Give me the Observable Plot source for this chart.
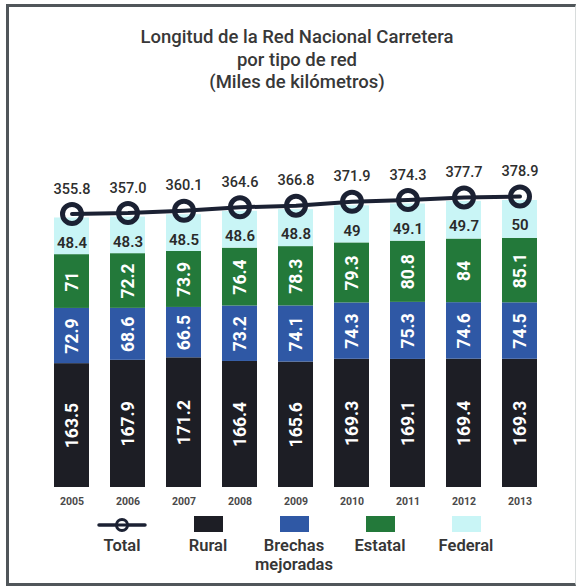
<!DOCTYPE html>
<html>
<head>
<meta charset="utf-8">
<script src="https://cdn.jsdelivr.net/npm/d3@7"></script>
<script src="https://cdn.jsdelivr.net/npm/@observablehq/plot@0.6"></script>
<style>
  body { margin: 0; background: #fff; font-family: Roboto, "DejaVu Sans", sans-serif; }
  #page { position: relative; width: 577px; height: 588px; overflow: hidden; background: #fff; }
  #frame { position: absolute; left: 6px; top: 4px; width: 566px; height: 576px;
           border-left: 3px solid #50565a; border-top: 3px solid #50565a; border-bottom: 3px solid #50565a;
           border-right: 1px solid #d8dcdc; }
  #title { position: absolute; left: 0; top: 26px; width: 594px; text-align: center;
           font-size: 18.5px; font-weight: 500; line-height: 22.5px; color: #383838; }
  #chart { position: absolute; left: 0; top: 100px; }
  .lg { position: absolute; top: 516px; width: 90px; margin-left: -45px; text-align: center;
        font-size: 16.5px; font-weight: 600; color: #363636; line-height: 19px; }
  .sw { width: 29px; height: 16px; margin: 0 auto 4px auto; }
</style>
</head>
<body>
<div id="page">
  <div id="frame"></div>
  <div id="title">Longitud de la Red Nacional Carretera<br>por tipo de red<br>(Miles de kilómetros)</div>
  <div id="chart"></div>
  <div id="legend"></div>
</div>
<script>
const years    = ["2005","2006","2007","2008","2009","2010","2011","2012","2013"];
const rural    = [163.5, 167.9, 171.2, 166.4, 165.6, 169.3, 169.1, 169.4, 169.3];
const brechas  = [72.9, 68.6, 66.5, 73.2, 74.1, 74.3, 75.3, 74.6, 74.5];
const estatal  = [71, 72.2, 73.9, 76.4, 78.3, 79.3, 80.8, 84, 85.1];
const federal  = [48.4, 48.3, 48.5, 48.6, 48.8, 49, 49.1, 49.7, 50];
const total    = [355.8, 357.0, 360.1, 364.6, 366.8, 371.9, 374.3, 377.7, 378.9];
const totalLabels = ["355.8","357.0","360.1","364.6","366.8","371.9","374.3","377.7","378.9"];
const seriesNames = ["Rural", "Brechas mejoradas", "Estatal", "Federal"];
const seriesColors = ["#1d1e25", "#2f58a5", "#23793a", "#c9f5f6"];
const seriesValues = [rural, brechas, estatal, federal];

const stacked = [];
years.forEach((y, i) => {
  seriesNames.forEach((s, j) => stacked.push({year: y, series: s, value: seriesValues[j][i]}));
});
const tot = years.map((y, i) => ({year: y, total: total[i], label: totalLabels[i], federal: federal[i]}));

const lineColor = "#1b2133";
const font = "Roboto, 'DejaVu Sans', sans-serif";

const chart = Plot.plot({
  width: 577,
  height: 417,
  marginLeft: 31,
  marginRight: 18,
  marginTop: 84,
  marginBottom: 30,
  style: {fontFamily: font, background: "transparent"},
  x: {type: "band", domain: years, padding: 0.38, label: null},
  y: {domain: [0, 400], axis: null},
  color: {domain: seriesNames, range: seriesColors},
  marks: [
    Plot.barY(stacked, {x: "year", y: "value", fill: "series", order: seriesNames}),
    Plot.text(stacked, Plot.stackY({
      x: "year", y: "value", z: "series", order: seriesNames,
      text: d => d.series === "Federal" ? null : String(d.value),
      rotate: -90, fill: "white", fontSize: 17.5, fontWeight: "bold"
    })),
    Plot.text(tot, {x: "year", y: "total", text: d => String(d.federal), dy: 25,
      fill: "#2a2a2a", fontSize: 15, fontWeight: 600}),
    Plot.line(tot, {x: "year", y: "total", stroke: lineColor, strokeWidth: 4, dy: -4}),
    Plot.dot(tot, {x: "year", y: "total", r: 9.5, stroke: lineColor, strokeWidth: 5, fill: "none", dy: -4}),
    Plot.text(tot, {x: "year", y: "total", text: "label", dy: -29,
      fill: "#2e2e2e", fontSize: 14.5, fontWeight: 500}),
    Plot.axisX({tickSize: 0, tickPadding: 10, fontSize: 10.5, fontWeight: "bold", color: "#4a4a4a", label: null})
  ]
});
document.getElementById("chart").appendChild(chart);

// Legend (HTML)
const legendItems = [
  {name: "Total", x: 122, kind: "line"},
  {name: "Rural", x: 208, color: seriesColors[0]},
  {name: "Brechas<br>mejoradas", x: 294, color: seriesColors[1]},
  {name: "Estatal", x: 380, color: seriesColors[2]},
  {name: "Federal", x: 466, color: seriesColors[3]}
];
const lg = document.getElementById("legend");
legendItems.forEach(it => {
  const d = document.createElement("div");
  d.className = "lg";
  d.style.left = it.x + "px";
  if (it.kind === "line") {
    d.innerHTML = `<svg width="50" height="16" style="display:block;margin:0 auto 4px auto">
      <line x1="2" y1="9" x2="48" y2="9" stroke="${lineColor}" stroke-width="3.5" stroke-linecap="round"/>
      <circle cx="25" cy="9" r="5.5" fill="white" stroke="${lineColor}" stroke-width="3"/>
      <line x1="19" y1="9" x2="31" y2="9" stroke="${lineColor}" stroke-width="3"/></svg>${it.name}`;
  } else {
    d.innerHTML = `<div class="sw" style="background:${it.color}"></div>${it.name}`;
  }
  lg.appendChild(d);
});
</script>
</body>
</html>
